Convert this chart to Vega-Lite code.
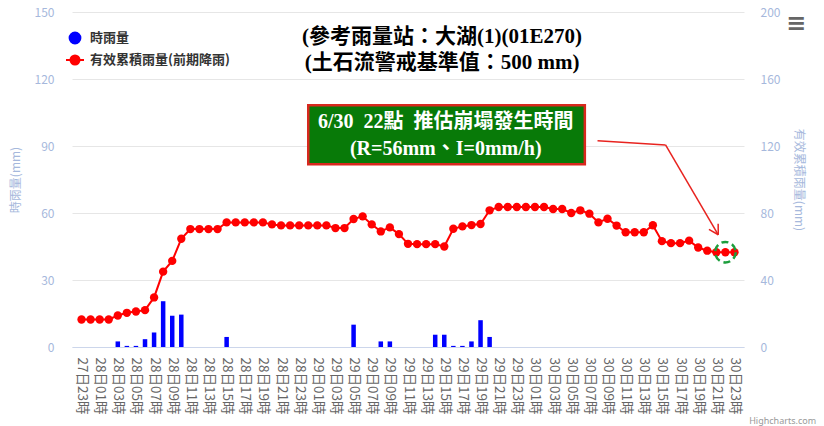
{
  "$schema": "https://vega.github.io/schema/vega-lite/v6.json",
  "autosize": "none",
  "width": 672,
  "height": 335,
  "padding": {"left": 72, "top": 12, "right": 80, "bottom": 79},
  "background": "white",
  "config": {
    "view": {"stroke": null},
    "font": "Noto Sans CJK TC",
    "axis": {"labelFont": "Noto Sans CJK TC", "titleFont": "Noto Sans CJK TC"},
    "axisX": {"labelOverlap": false}
  },
  "datasets": {
    "hourly": [
      {"t": "2024-06-27T23:00", "rain": 0, "acc": 16.4},
      {"t": "2024-06-28T00:00", "rain": 0, "acc": 16.4},
      {"t": "2024-06-28T01:00", "rain": 0, "acc": 16.4},
      {"t": "2024-06-28T02:00", "rain": 0, "acc": 16.4},
      {"t": "2024-06-28T03:00", "rain": 2.5, "acc": 18.8},
      {"t": "2024-06-28T04:00", "rain": 0.5, "acc": 20.4},
      {"t": "2024-06-28T05:00", "rain": 0.5, "acc": 21.2},
      {"t": "2024-06-28T06:00", "rain": 3.5, "acc": 22.0},
      {"t": "2024-06-28T07:00", "rain": 6.5, "acc": 29.6},
      {"t": "2024-06-28T08:00", "rain": 20.5, "acc": 45.0},
      {"t": "2024-06-28T09:00", "rain": 14.0, "acc": 51.4},
      {"t": "2024-06-28T10:00", "rain": 14.5, "acc": 64.6},
      {"t": "2024-06-28T11:00", "rain": 0, "acc": 70.4},
      {"t": "2024-06-28T12:00", "rain": 0, "acc": 70.4},
      {"t": "2024-06-28T13:00", "rain": 0, "acc": 70.4},
      {"t": "2024-06-28T14:00", "rain": 0, "acc": 70.4},
      {"t": "2024-06-28T15:00", "rain": 4.5, "acc": 74.4},
      {"t": "2024-06-28T16:00", "rain": 0, "acc": 74.4},
      {"t": "2024-06-28T17:00", "rain": 0, "acc": 74.4},
      {"t": "2024-06-28T18:00", "rain": 0, "acc": 74.4},
      {"t": "2024-06-28T19:00", "rain": 0, "acc": 74.4},
      {"t": "2024-06-28T20:00", "rain": 0, "acc": 73.2},
      {"t": "2024-06-28T21:00", "rain": 0, "acc": 72.6},
      {"t": "2024-06-28T22:00", "rain": 0, "acc": 72.6},
      {"t": "2024-06-28T23:00", "rain": 0, "acc": 72.6},
      {"t": "2024-06-29T00:00", "rain": 0, "acc": 72.6},
      {"t": "2024-06-29T01:00", "rain": 0, "acc": 72.6},
      {"t": "2024-06-29T02:00", "rain": 0, "acc": 72.6},
      {"t": "2024-06-29T03:00", "rain": 0, "acc": 71.0},
      {"t": "2024-06-29T04:00", "rain": 0, "acc": 71.0},
      {"t": "2024-06-29T05:00", "rain": 10.0, "acc": 76.4},
      {"t": "2024-06-29T06:00", "rain": 0, "acc": 78.0},
      {"t": "2024-06-29T07:00", "rain": 0, "acc": 73.2},
      {"t": "2024-06-29T08:00", "rain": 2.5, "acc": 69.0},
      {"t": "2024-06-29T09:00", "rain": 2.5, "acc": 71.4},
      {"t": "2024-06-29T10:00", "rain": 0, "acc": 67.4},
      {"t": "2024-06-29T11:00", "rain": 0, "acc": 61.6},
      {"t": "2024-06-29T12:00", "rain": 0, "acc": 61.4},
      {"t": "2024-06-29T13:00", "rain": 0, "acc": 61.4},
      {"t": "2024-06-29T14:00", "rain": 5.5, "acc": 61.4},
      {"t": "2024-06-29T15:00", "rain": 5.5, "acc": 60.0},
      {"t": "2024-06-29T16:00", "rain": 0.5, "acc": 70.6},
      {"t": "2024-06-29T17:00", "rain": 0.5, "acc": 72.0},
      {"t": "2024-06-29T18:00", "rain": 2.5, "acc": 72.8},
      {"t": "2024-06-29T19:00", "rain": 12.0, "acc": 73.4},
      {"t": "2024-06-29T20:00", "rain": 4.5, "acc": 81.6},
      {"t": "2024-06-29T21:00", "rain": 0, "acc": 83.6},
      {"t": "2024-06-29T22:00", "rain": 0, "acc": 83.6},
      {"t": "2024-06-29T23:00", "rain": 0, "acc": 83.6},
      {"t": "2024-06-30T00:00", "rain": 0, "acc": 83.6},
      {"t": "2024-06-30T01:00", "rain": 0, "acc": 83.6},
      {"t": "2024-06-30T02:00", "rain": 0, "acc": 83.6},
      {"t": "2024-06-30T03:00", "rain": 0, "acc": 82.4},
      {"t": "2024-06-30T04:00", "rain": 0, "acc": 82.4},
      {"t": "2024-06-30T05:00", "rain": 0, "acc": 80.0},
      {"t": "2024-06-30T06:00", "rain": 0, "acc": 81.6},
      {"t": "2024-06-30T07:00", "rain": 0, "acc": 79.6},
      {"t": "2024-06-30T08:00", "rain": 0, "acc": 74.4},
      {"t": "2024-06-30T09:00", "rain": 0, "acc": 76.6},
      {"t": "2024-06-30T10:00", "rain": 0, "acc": 72.5},
      {"t": "2024-06-30T11:00", "rain": 0, "acc": 68.5},
      {"t": "2024-06-30T12:00", "rain": 0, "acc": 68.5},
      {"t": "2024-06-30T13:00", "rain": 0, "acc": 68.5},
      {"t": "2024-06-30T14:00", "rain": 0, "acc": 72.7},
      {"t": "2024-06-30T15:00", "rain": 0, "acc": 63.2},
      {"t": "2024-06-30T16:00", "rain": 0, "acc": 62.0},
      {"t": "2024-06-30T17:00", "rain": 0, "acc": 62.0},
      {"t": "2024-06-30T18:00", "rain": 0, "acc": 63.5},
      {"t": "2024-06-30T19:00", "rain": 0, "acc": 59.4},
      {"t": "2024-06-30T20:00", "rain": 0, "acc": 57.5},
      {"t": "2024-06-30T21:00", "rain": 0, "acc": 56.6},
      {"t": "2024-06-30T22:00", "rain": 0, "acc": 56.6},
      {"t": "2024-06-30T23:00", "rain": 0, "acc": 56.6}
    ],
    "titles": [
      {"t": "2024-06-29T14:45", "v": 138.9, "label": "(參考雨量站：大湖(1)(01E270)"},
      {"t": "2024-06-29T14:45", "v": 127.2, "label": "(土石流警戒基準值：500 mm)"}
    ],
    "box": [
      {"t1": "2024-06-29T00:00", "t2": "2024-06-30T06:30", "v1": 108.3, "v2": 81.8}
    ],
    "notes": [
      {"t": "2024-06-29T15:10", "v": 100.7, "label": "6/30\u00a0\u00a022點\u00a0\u00a0推估崩塌發生時間"},
      {"t": "2024-06-29T15:10", "v": 88.5, "label": "(R=56mm、I=0mm/h)"}
    ],
    "extras": [
      {"t": "2024-07-01T05:48", "v": 144.6, "label": "≡"}
    ],
    "credit": [
      {"t": "2024-07-01T08:00", "v": -33, "label": "Highcharts.com"}
    ],
    "arrow": [
      {"t1": "2024-06-30T07:54", "v1": 123.1, "t2": "2024-06-30T15:24", "v2": 120.6},
      {"t1": "2024-06-30T15:24", "v1": 120.6, "t2": "2024-06-30T21:13", "v2": 67.0},
      {"t1": "2024-06-30T20:11", "v1": 70.2, "t2": "2024-06-30T21:13", "v2": 67.0},
      {"t1": "2024-06-30T21:12", "v1": 73.6, "t2": "2024-06-30T21:13", "v2": 67.0}
    ],
    "focus": [
      {"t": "2024-06-30T22:00", "v": 56.6}
    ]
  },
  "layer": [
    {
      "layer": [
        {
          "data": {"name": "hourly"},
          "mark": {"type": "bar", "width": 4.5},
          "encoding": {
            "x": {
              "field": "t", "type": "temporal",
              "scale": {"domain": [{"year": 2024, "month": 6, "date": 27, "hours": 22, "minutes": 30}, {"year": 2024, "month": 6, "date": 30, "hours": 23, "minutes": 30}], "nice": false},
              "axis": {
                "title": null, "grid": false, "ticks": false, "domain": true, "domainColor": "#ccd6eb", "domainWidth": 1,
                "labelAngle": 90, "labelPadding": 10, "labelFontSize": 13.5, "labelColor": "#666666",
                "labelOverlap": false, "tickCount": 200, "format": "%d日%H時",
                "values": [
                  {"year": 2024, "month": 6, "date": 27, "hours": 23},
                  {"year": 2024, "month": 6, "date": 28, "hours": 1},
                  {"year": 2024, "month": 6, "date": 28, "hours": 3},
                  {"year": 2024, "month": 6, "date": 28, "hours": 5},
                  {"year": 2024, "month": 6, "date": 28, "hours": 7},
                  {"year": 2024, "month": 6, "date": 28, "hours": 9},
                  {"year": 2024, "month": 6, "date": 28, "hours": 11},
                  {"year": 2024, "month": 6, "date": 28, "hours": 13},
                  {"year": 2024, "month": 6, "date": 28, "hours": 15},
                  {"year": 2024, "month": 6, "date": 28, "hours": 17},
                  {"year": 2024, "month": 6, "date": 28, "hours": 19},
                  {"year": 2024, "month": 6, "date": 28, "hours": 21},
                  {"year": 2024, "month": 6, "date": 28, "hours": 23},
                  {"year": 2024, "month": 6, "date": 29, "hours": 1},
                  {"year": 2024, "month": 6, "date": 29, "hours": 3},
                  {"year": 2024, "month": 6, "date": 29, "hours": 5},
                  {"year": 2024, "month": 6, "date": 29, "hours": 7},
                  {"year": 2024, "month": 6, "date": 29, "hours": 9},
                  {"year": 2024, "month": 6, "date": 29, "hours": 11},
                  {"year": 2024, "month": 6, "date": 29, "hours": 13},
                  {"year": 2024, "month": 6, "date": 29, "hours": 15},
                  {"year": 2024, "month": 6, "date": 29, "hours": 17},
                  {"year": 2024, "month": 6, "date": 29, "hours": 19},
                  {"year": 2024, "month": 6, "date": 29, "hours": 21},
                  {"year": 2024, "month": 6, "date": 29, "hours": 23},
                  {"year": 2024, "month": 6, "date": 30, "hours": 1},
                  {"year": 2024, "month": 6, "date": 30, "hours": 3},
                  {"year": 2024, "month": 6, "date": 30, "hours": 5},
                  {"year": 2024, "month": 6, "date": 30, "hours": 7},
                  {"year": 2024, "month": 6, "date": 30, "hours": 9},
                  {"year": 2024, "month": 6, "date": 30, "hours": 11},
                  {"year": 2024, "month": 6, "date": 30, "hours": 13},
                  {"year": 2024, "month": 6, "date": 30, "hours": 15},
                  {"year": 2024, "month": 6, "date": 30, "hours": 17},
                  {"year": 2024, "month": 6, "date": 30, "hours": 19},
                  {"year": 2024, "month": 6, "date": 30, "hours": 21},
                  {"year": 2024, "month": 6, "date": 30, "hours": 23}
                ]
              }
            },
            "y": {
              "field": "rain", "type": "quantitative",
              "scale": {"domain": [0, 150], "nice": false},
              "axis": {
                "orient": "left", "title": "時雨量(mm)", "values": [0, 30, 60, 90, 120, 150],
                "grid": true, "gridColor": "#e6e6e6", "domain": false, "ticks": false,
                "labelPadding": 18, "labelFontSize": 12, "labelColor": "#a6b8dc",
                "titleColor": "#a6b8dc", "titleFontSize": 12, "titleFontWeight": "normal", "titlePadding": 12
              }
            },
            "color": {
              "datum": "時雨量", "type": "nominal",
              "scale": {"domain": ["時雨量", "有效累積雨量(前期降雨)"], "range": ["#0000ff", "#ff0000"]},
              "legend": {
                "orient": "none", "legendX": -7, "legendY": 16, "title": null, "padding": 0,
                "symbolSize": 324, "symbolStrokeWidth": 2, "labelFontSize": 13, "labelFontWeight": "bold",
                "labelColor": "#333333", "labelOffset": 5, "rowPadding": 2, "labelFont": "Noto Sans CJK TC",
                "encode": {
                  "symbols": {
                    "update": {
                      "shape": {"signal": "datum.value === '時雨量' ? 'M-0.6,0A0.6,0.6,0,1,1,0.6,0A0.6,0.6,0,1,1,-0.6,0Z' : 'M-1,0L1,0M-0.5,0A0.5,0.5,0,1,1,0.5,0A0.5,0.5,0,1,1,-0.5,0Z'"},
                      "fill": {"signal": "scale('color', datum.value)"},
                      "stroke": {"signal": "scale('color', datum.value)"},
                      "strokeWidth": {"value": 2},
                      "opacity": {"value": 1},
                      "fillOpacity": {"value": 1}
                    }
                  }
                }
              }
            }
          }
        },
        {
          "data": {"name": "box"},
          "mark": {"type": "rect", "color": "#087a08", "stroke": "#d8281e", "strokeWidth": 2.5},
          "encoding": {
            "x": {"field": "t1", "type": "temporal"},
            "x2": {"field": "t2"},
            "y": {"field": "v1", "type": "quantitative"},
            "y2": {"field": "v2"}
          }
        },
        {
          "data": {"name": "notes"},
          "mark": {"type": "text", "font": "'Liberation Serif', 'Noto Sans CJK TC', serif", "fontWeight": "bold", "fontSize": 20, "color": "#ffffff", "align": "center", "baseline": "middle"},
          "encoding": {
            "x": {"field": "t", "type": "temporal"},
            "y": {"field": "v", "type": "quantitative"},
            "text": {"field": "label"}
          }
        },
        {
          "data": {"name": "titles"},
          "mark": {"type": "text", "font": "'Liberation Serif', 'Noto Sans CJK TC', serif", "fontWeight": "bold", "fontSize": 21, "color": "#000000", "align": "center", "baseline": "middle"},
          "encoding": {
            "x": {"field": "t", "type": "temporal"},
            "y": {"field": "v", "type": "quantitative"},
            "text": {"field": "label"}
          }
        },
        {
          "data": {"name": "extras"},
          "mark": {"type": "text", "font": "DejaVu Sans", "fontSize": 24, "fontWeight": "bold", "color": "#666666", "align": "center", "baseline": "middle"},
          "encoding": {
            "x": {"field": "t", "type": "temporal"},
            "y": {"field": "v", "type": "quantitative"},
            "text": {"field": "label"}
          }
        },
        {
          "data": {"name": "credit"},
          "mark": {"type": "text", "font": "Noto Sans", "fontSize": 9, "color": "#999999", "align": "right", "baseline": "middle"},
          "encoding": {
            "x": {"field": "t", "type": "temporal"},
            "y": {"field": "v", "type": "quantitative"},
            "text": {"field": "label"}
          }
        }
      ]
    },
    {
      "layer": [
        {
          "data": {"name": "hourly"},
          "mark": {"type": "line", "strokeWidth": 2, "point": {"filled": true, "size": 70}},
          "encoding": {
            "x": {"field": "t", "type": "temporal"},
            "y": {
              "field": "acc", "type": "quantitative",
              "scale": {"domain": [0, 200], "nice": false},
              "axis": {
                "orient": "right", "title": "有效累積雨量(mm)", "values": [0, 40, 80, 120, 160, 200],
                "grid": false, "domain": false, "ticks": false,
                "labelPadding": 16, "labelFontSize": 12, "labelColor": "#a6b8dc",
                "titleColor": "#a6b8dc", "titleFontSize": 12, "titleFontWeight": "normal", "titlePadding": 12
              }
            },
            "color": {"datum": "有效累積雨量(前期降雨)", "type": "nominal"}
          }
        },
        {
          "data": {"name": "arrow"},
          "mark": {"type": "rule", "color": "#e8231f", "strokeWidth": 1.5},
          "encoding": {
            "x": {"field": "t1", "type": "temporal"},
            "x2": {"field": "t2"},
            "y": {"field": "v1", "type": "quantitative"},
            "y2": {"field": "v2"}
          }
        },
        {
          "data": {"name": "focus"},
          "mark": {"type": "point", "shape": "circle", "size": 420, "filled": false, "color": "#1c9e3c", "strokeWidth": 2.5, "strokeDash": [7, 4], "opacity": 1},
          "encoding": {
            "x": {"field": "t", "type": "temporal"},
            "y": {"field": "v", "type": "quantitative"}
          }
        }
      ]
    }
  ],
  "resolve": {"scale": {"y": "independent"}}
}
